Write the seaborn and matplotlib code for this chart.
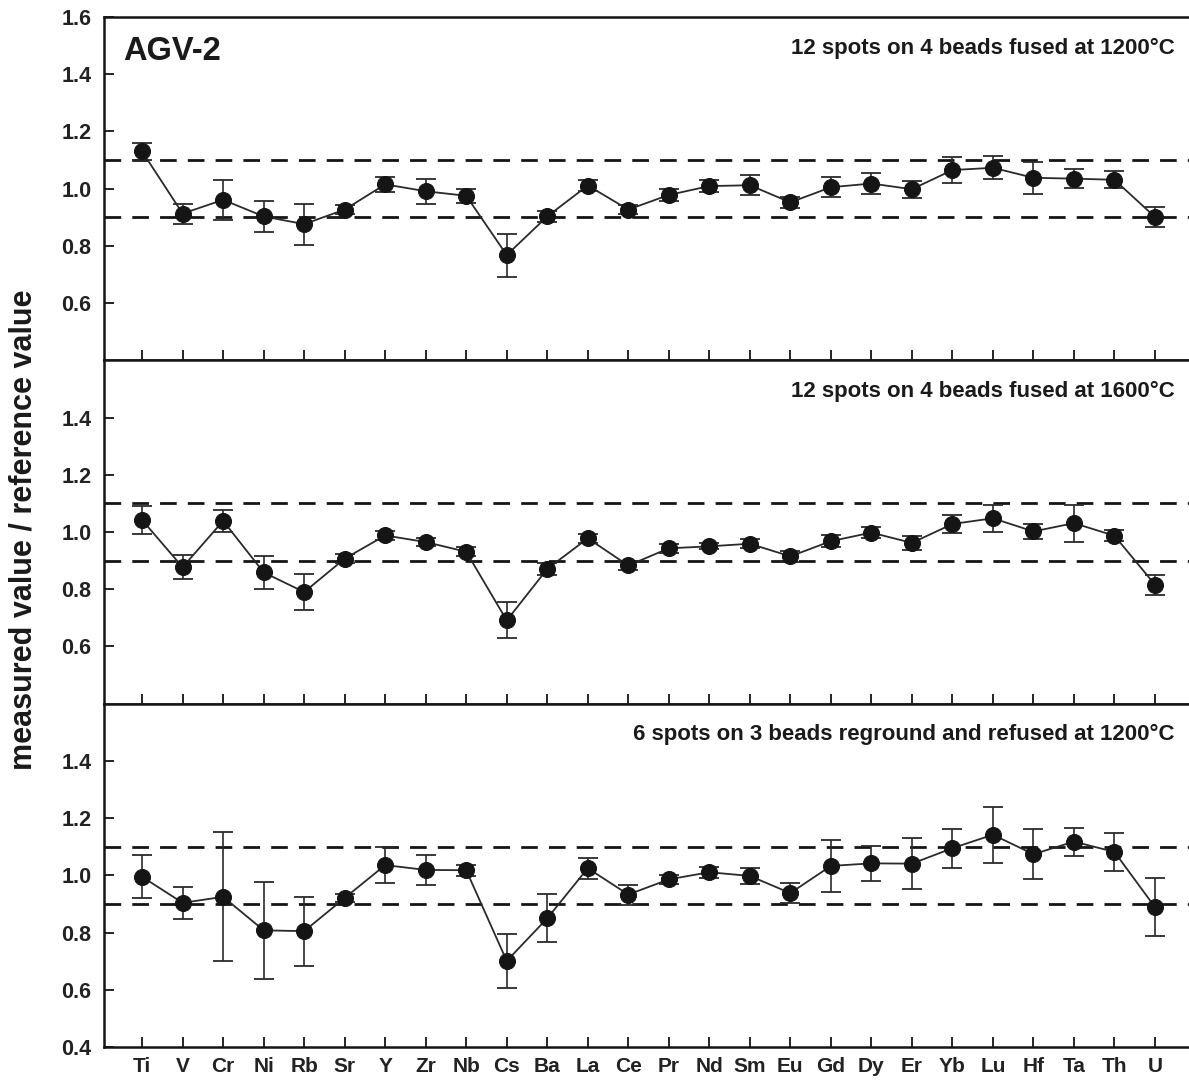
import numpy as np
import pandas as pd
import matplotlib
matplotlib.use("Agg")
import matplotlib.pyplot as plt
import seaborn as sns

elements = ["Ti", "V", "Cr", "Ni", "Rb", "Sr", "Y", "Zr", "Nb", "Cs", "Ba", "La", "Ce",
            "Pr", "Nd", "Sm", "Eu", "Gd", "Dy", "Er", "Yb", "Lu", "Hf", "Ta", "Th", "U"]

ratio_1200 = [1.13, 0.913, 0.961, 0.903, 0.876, 0.927, 1.015, 0.991, 0.975, 0.768, 0.903, 1.011, 0.927,
              0.978, 1.009, 1.012, 0.952, 1.005, 1.018, 0.998, 1.065, 1.073, 1.038, 1.035, 1.031, 0.901]
err_1200 = [0.03, 0.035, 0.07, 0.055, 0.072, 0.015, 0.025, 0.044, 0.025, 0.075, 0.02, 0.02, 0.015,
            0.02, 0.022, 0.035, 0.02, 0.035, 0.036, 0.03, 0.045, 0.04, 0.055, 0.032, 0.03, 0.034]

ratio_1600 = [1.042, 0.877, 1.039, 0.859, 0.79, 0.907, 0.988, 0.965, 0.931, 0.691, 0.871, 0.978, 0.883,
              0.943, 0.950, 0.959, 0.915, 0.968, 0.998, 0.962, 1.028, 1.048, 1.002, 1.031, 0.987, 0.816]
err_1600 = [0.048, 0.042, 0.039, 0.058, 0.064, 0.015, 0.015, 0.015, 0.015, 0.063, 0.02, 0.015, 0.015,
            0.015, 0.01, 0.015, 0.02, 0.02, 0.02, 0.025, 0.03, 0.047, 0.025, 0.065, 0.02, 0.035]

ratio_refused = [0.995, 0.904, 0.925, 0.808, 0.805, 0.921, 1.036, 1.019, 1.018, 0.701, 0.85, 1.025, 0.933,
                 0.986, 1.011, 0.998, 0.938, 1.033, 1.042, 1.041, 1.095, 1.142, 1.074, 1.118, 1.082, 0.889]
err_refused = [0.075, 0.055, 0.225, 0.17, 0.12, 0.015, 0.064, 0.053, 0.02, 0.095, 0.084, 0.037, 0.035,
               0.015, 0.02, 0.027, 0.036, 0.092, 0.062, 0.089, 0.068, 0.098, 0.088, 0.049, 0.067, 0.102]

panel_labels = ["12 spots on 4 beads fused at 1200°C",
                "12 spots on 4 beads fused at 1600°C",
                "6 spots on 3 beads reground and refused at 1200°C"]
ref_lines = [1.1, 0.9]
ytick_sets = [[0.6, 0.8, 1.0, 1.2, 1.4, 1.6],
              [0.6, 0.8, 1.0, 1.2, 1.4],
              [0.4, 0.6, 0.8, 1.0, 1.2, 1.4]]

sns.set_theme(style="ticks")
plt.rcParams['font.family'] = ['Liberation Sans', 'DejaVu Sans']
plt.rcParams['font.weight'] = 'bold'

fig, axes = plt.subplots(3, 1, figsize=(11.89, 10.82), dpi=100, sharex=True)
fig.subplots_adjust(left=0.0875, right=1.0, top=0.9843, bottom=0.0323, hspace=0)

series = [(ratio_1200, err_1200), (ratio_1600, err_1600), (ratio_refused, err_refused)]
ink = "#151515"

for i, (ax, (vals, errs)) in enumerate(zip(axes, series)):
    df = pd.DataFrame({"x": np.arange(len(elements)), "y": vals, "err": errs})
    for r in ref_lines:
        ax.axhline(r, color=ink, lw=2.0, ls=(0, (6, 4)), zorder=1)
    ax.errorbar(df["x"], df["y"], yerr=df["err"], fmt="none", ecolor="#2a2a2a",
                elinewidth=1.2, capsize=7, capthick=1.3, zorder=2)
    sns.lineplot(data=df, x="x", y="y", ax=ax, color="#2a2a2a", lw=1.3,
                 marker="o", markersize=11.5, markerfacecolor=ink, markeredgecolor=ink,
                 zorder=3)
    ax.set_ylim(0.4, 1.6)
    ax.set_xlim(-0.94, 25.84)
    ax.set_yticks(ytick_sets[i])
    ax.set_yticklabels([f"{t:.1f}" for t in ytick_sets[i]], fontsize=15.5, fontweight="bold", color="#222222")
    ax.set_xticks(np.arange(len(elements)))
    ax.set_xlabel("")
    ax.set_ylabel("")
    ax.tick_params(axis="both", direction="in", length=7, width=1.3, color=ink)
    ax.tick_params(axis="y", pad=9)
    for s in ["left", "bottom", "top"]:
        ax.spines[s].set_linewidth(1.8)
        ax.spines[s].set_color(ink)
    ax.spines["right"].set_visible(False)
    ax.text(0.987, 0.94, panel_labels[i], transform=ax.transAxes, ha="right", va="top",
            fontsize=16, fontweight="bold", color="#1a1a1a")

axes[0].text(0.018, 0.945, "AGV-2", transform=axes[0].transAxes, ha="left", va="top",
             fontsize=23.5, fontweight="bold", color="#1a1a1a")

axes[2].set_xticklabels(elements, fontsize=15, fontweight="bold", color="#222222")
axes[2].tick_params(axis="x", pad=7)

fig.text(0.02, 0.51, "measured value / reference value", rotation=90, ha="center", va="center",
         fontsize=22, fontweight="bold", color="#1a1a1a")

fig.savefig("out.png", dpi=100, facecolor="white")
